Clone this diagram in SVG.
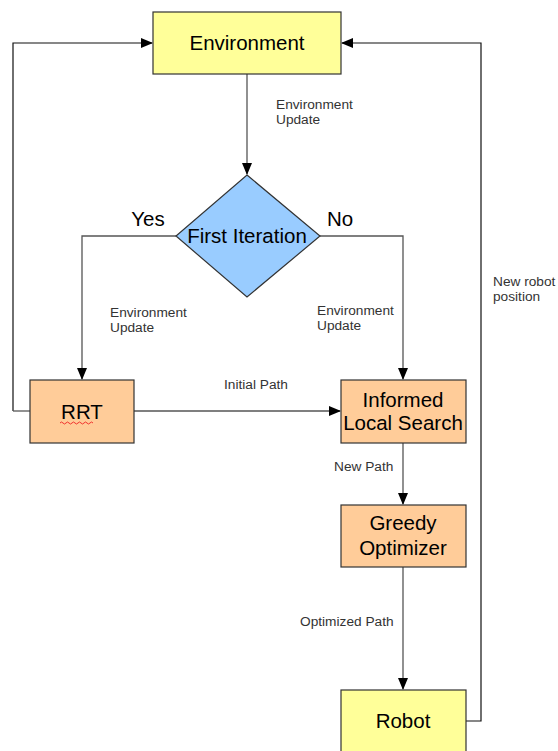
<svg xmlns="http://www.w3.org/2000/svg" width="558" height="751" viewBox="0 0 558 751">
<style>
.box{stroke:#333;stroke-width:1.2}
.yellow{fill:#ffff99}
.orange{fill:#ffcc99}
.blue{fill:#99ccff}
.t{font-family:"Liberation Sans",Arial,sans-serif;font-size:20.5px;fill:#000;text-anchor:middle}
.lbl{font-family:"Liberation Sans",Arial,sans-serif;font-size:13.7px;fill:#333}
.c{fill:none;stroke:#555;stroke-width:1.3}
.k{fill:none;stroke:#111;stroke-width:1.2}
</style>
<defs>
<marker id="ah" markerWidth="12" markerHeight="10" refX="11" refY="5" orient="auto" markerUnits="userSpaceOnUse">
<path d="M0,0 L12,5 L0,10 Z" fill="#000"/>
</marker>
</defs>
<rect width="558" height="751" fill="#fff"/>
<g id="connectors">
<path class="k" d="M13,411 L13,43 L152,43" marker-end="url(#ah)"/>
<path class="k" d="M466,721 L481,721 L481,43 L342,43" marker-end="url(#ah)"/>
<path class="c" d="M247,74 L247,174" marker-end="url(#ah)"/>
<path class="c" d="M176,236 L82,236 L82,379" marker-end="url(#ah)"/>
<path class="c" d="M320,236 L403,236 L403,379" marker-end="url(#ah)"/>
<path class="c" d="M30,411 L13,411"/>
<path class="c" d="M134,411 L340,411" marker-end="url(#ah)"/>
<path class="c" d="M403,443 L403,504" marker-end="url(#ah)"/>
<path class="c" d="M403,567 L403,689" marker-end="url(#ah)"/>
</g>
<g id="labels">
<text class="lbl" x="276" y="109">Environment</text>
<text class="lbl" x="276" y="124">Update</text>
<text class="t" x="148" y="226">Yes</text>
<text class="t" x="340" y="226">No</text>
<text class="lbl" x="110" y="317">Environment</text>
<text class="lbl" x="110" y="332">Update</text>
<text class="lbl" x="317" y="315">Environment</text>
<text class="lbl" x="317" y="330">Update</text>
<text class="lbl" x="224" y="389">Initial Path</text>
<text class="lbl" x="334" y="471">New Path</text>
<text class="lbl" x="300" y="626">Optimized Path</text>
<text class="lbl" x="493" y="286">New robot</text>
<text class="lbl" x="493" y="301">position</text>
</g>
<g id="environment">
<rect class="box yellow" x="153" y="12" width="188" height="62"/>
<text class="t" x="247" y="50">Environment</text>
</g>
<g id="first-iteration">
<path class="box blue" d="M247,175 L320,236 L247,297 L176,236 Z"/>
<text class="t" x="247" y="243">First Iteration</text>
</g>
<g id="rrt">
<rect class="box orange" x="30" y="380" width="104" height="63"/>
<text class="t" x="82" y="419">RRT</text>
<path d="M60,423 q1.5,-2 3,0 t3,0 t3,0 t3,0 t3,0 t3,0 t3,0 t3,0 t3,0 t3,0 t3,0" fill="none" stroke="#e22" stroke-width="0.9"/>
</g>
<g id="informed-local-search">
<rect class="box orange" x="341" y="380" width="125" height="63"/>
<text class="t" x="403" y="407">Informed</text>
<text class="t" x="403" y="430">Local Search</text>
</g>
<g id="greedy-optimizer">
<rect class="box orange" x="341" y="505" width="125" height="62"/>
<text class="t" x="403" y="530">Greedy</text>
<text class="t" x="403" y="555">Optimizer</text>
</g>
<g id="robot">
<rect class="box yellow" x="341" y="690" width="125" height="66"/>
<text class="t" x="403" y="728">Robot</text>
</g>
</svg>
